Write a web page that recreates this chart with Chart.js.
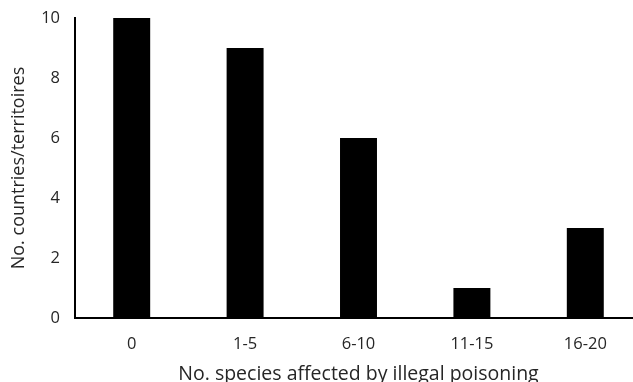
<!DOCTYPE html>
<html>
<head>
<meta charset="utf-8">
<script src="https://cdn.jsdelivr.net/npm/chart.js@4.4.1/dist/chart.umd.min.js"></script>
<style>
    html, body { margin: 0; padding: 0; background: #fff; overflow: hidden; }
    #wrap { width: 642px; height: 382px; }
</style>
</head>
<body>
<div id="wrap"><canvas id="myChart"></canvas></div>
<script>
// Data
const categories = ['0', '1-5', '6-10', '11-15', '16-20'];
const countries = [10, 9, 6, 1, 3];
const yTicks = [0, 2, 4, 6, 8, 10];

const textColor = '#262626';
const fontFamily = "'Open Sans', sans-serif";

const ctx = document.getElementById('myChart').getContext('2d');
new Chart(ctx, {
    type: 'bar',
    data: {
        labels: categories,
        datasets: [{
            data: countries,
            backgroundColor: '#000',
            barPercentage: 0.326,
            categoryPercentage: 1
        }]
    },
    options: {
        responsive: true,
        maintainAspectRatio: false,
        animation: false,
        layout: { padding: { top: 18, left: 0, right: 0, bottom: 0 } },
        plugins: {
            legend: { display: false },
            tooltip: { enabled: false }
        },
        scales: {
            x: {
                grid: { display: false },
                border: { display: true, color: '#000', width: 2 },
                ticks: {
                    color: textColor,
                    font: { family: fontFamily, size: 16.5 },
                    padding: 8,
                    maxRotation: 0
                },
                title: {
                    display: true,
                    text: 'No. species affected by illegal poisoning',
                    color: textColor,
                    font: { family: fontFamily, size: 19.5 },
                    padding: { top: 0, bottom: -4 }
                },
                afterFit: scale => { scale.height = 64; }
            },
            y: {
                min: 0,
                max: 10,
                afterBuildTicks: scale => { scale.ticks = yTicks.map(v => ({ value: v })); },
                grid: { display: false },
                border: { display: true, color: '#000', width: 2 },
                ticks: {
                    color: textColor,
                    font: { family: fontFamily, size: 16.5 },
                    padding: 7
                },
                title: {
                    display: true,
                    text: 'No. countries/territoires',
                    color: textColor,
                    font: { family: fontFamily, size: 18 },
                    padding: { top: 8, bottom: 0 }
                },
                afterFit: scale => { scale.width = 75; }
            }
        }
    }
});
</script>
</body>
</html>
